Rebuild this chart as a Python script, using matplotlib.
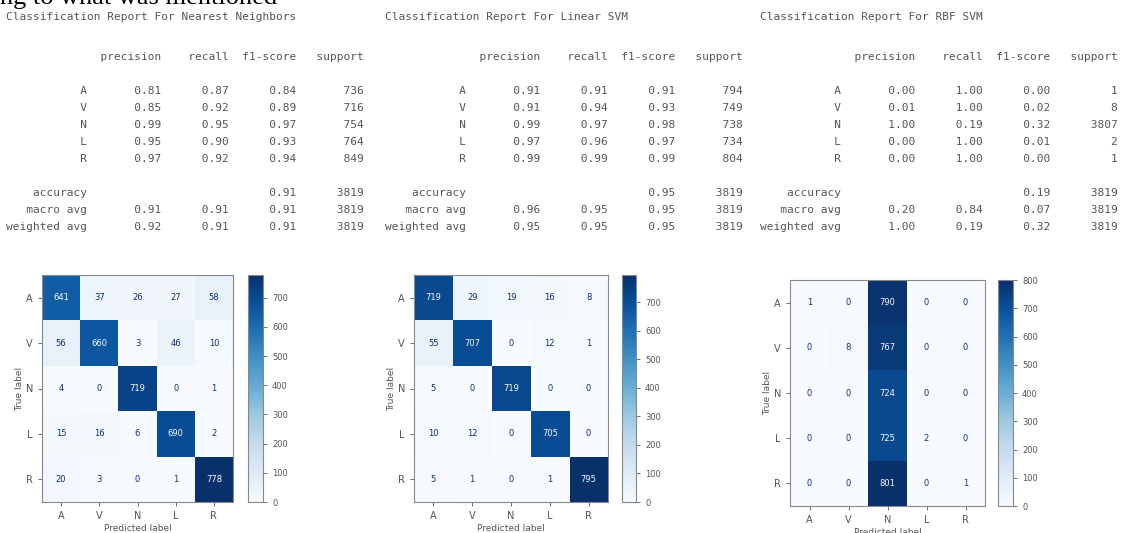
import matplotlib.pyplot as plt
import numpy as np

W, H = 1125, 533

classes = ['A', 'V', 'N', 'L', 'R']

# Nearest Neighbors
knn_precision = [0.81, 0.85, 0.99, 0.95, 0.97]
knn_recall = [0.87, 0.92, 0.95, 0.90, 0.92]
knn_f1 = [0.84, 0.89, 0.97, 0.93, 0.94]
knn_support = [736, 716, 754, 764, 849]
knn_accuracy = 0.91
knn_macro = [0.91, 0.91, 0.91]
knn_weighted = [0.92, 0.91, 0.91]
knn_cm = [[641, 37, 26, 27, 58],
          [56, 660, 3, 46, 10],
          [4, 0, 719, 0, 1],
          [15, 16, 6, 690, 2],
          [20, 3, 0, 1, 778]]

# Linear SVM
lin_precision = [0.91, 0.91, 0.99, 0.97, 0.99]
lin_recall = [0.91, 0.94, 0.97, 0.96, 0.99]
lin_f1 = [0.91, 0.93, 0.98, 0.97, 0.99]
lin_support = [794, 749, 738, 734, 804]
lin_accuracy = 0.95
lin_macro = [0.96, 0.95, 0.95]
lin_weighted = [0.95, 0.95, 0.95]
lin_cm = [[719, 29, 19, 16, 8],
          [55, 707, 0, 12, 1],
          [5, 0, 719, 0, 0],
          [10, 12, 0, 705, 0],
          [5, 1, 0, 1, 795]]

# RBF SVM
rbf_precision = [0.00, 0.01, 1.00, 0.00, 0.00]
rbf_recall = [1.00, 1.00, 0.19, 1.00, 1.00]
rbf_f1 = [0.00, 0.02, 0.32, 0.01, 0.00]
rbf_support = [1, 8, 3807, 2, 1]
rbf_accuracy = 0.19
rbf_macro = [0.20, 0.84, 0.07]
rbf_weighted = [1.00, 0.19, 0.32]
rbf_cm = [[1, 0, 790, 0, 0],
          [0, 8, 767, 0, 0],
          [0, 0, 724, 0, 0],
          [0, 0, 725, 2, 0],
          [0, 0, 801, 0, 1]]

models = [
    ('Nearest Neighbors', knn_precision, knn_recall, knn_f1, knn_support,
     knn_accuracy, knn_macro, knn_weighted, knn_cm),
    ('Linear SVM', lin_precision, lin_recall, lin_f1, lin_support,
     lin_accuracy, lin_macro, lin_weighted, lin_cm),
    ('RBF SVM', rbf_precision, rbf_recall, rbf_f1, rbf_support,
     rbf_accuracy, rbf_macro, rbf_weighted, rbf_cm),
]

# layout in pixels of the screenshot
text_x = [6, 385, 760]
mat_box = [(42, 233, 275, 502), (414, 608, 275, 502), (790, 985, 280, 506)]
cbar_box = [(248, 263), (622, 636), (998, 1013)]

TXT = '#555555'
MONO = 'DejaVu Sans Mono'


def report_lines(prec, rec, f1, sup, acc, macro, weighted):
    # same layout as sklearn's classification_report
    width = 12
    total = sum(sup)
    lines = [' ' * width + ' ' + ''.join(' {:>9}'.format(h) for h in
                                          ['precision', 'recall', 'f1-score', 'support'])]
    lines.append('')
    for c, p, r, f, s in zip(classes, prec, rec, f1, sup):
        lines.append('{:>{w}s}  {:>9.2f} {:>9.2f} {:>9.2f} {:>9}'.format(c, p, r, f, s, w=width))
    lines.append('')
    lines.append('{:>{w}s}  {:>9} {:>9} {:>9.2f} {:>9}'.format('accuracy', '', '', acc, total, w=width))
    lines.append('{:>{w}s}  {:>9.2f} {:>9.2f} {:>9.2f} {:>9}'.format('macro avg', *macro, total, w=width))
    lines.append('{:>{w}s}  {:>9.2f} {:>9.2f} {:>9.2f} {:>9}'.format('weighted avg', *weighted, total, w=width))
    return lines


def px_axes(fig, l, r, t, b):
    return fig.add_axes([l / W, 1 - b / H, (r - l) / W, (b - t) / H])


fig = plt.figure(figsize=(W / 100, H / 100), dpi=100)

# the cut-off line of document text above the screenshot
fig.text(0, 1 - 4 / H, 'ng to what was mentioned', family='Liberation Serif',
         fontsize=19, color='black', va='baseline', ha='left')

cmap = plt.get_cmap('Blues')
for k, (name, prec, rec, f1, sup, acc, macro, weighted, cm) in enumerate(models):
    x0 = text_x[k]
    fig.text(x0 / W, 1 - 17 / H, 'Classification Report For ' + name,
             family=MONO, fontsize=8, color=TXT, va='center', ha='left')
    for i, line in enumerate(report_lines(prec, rec, f1, sup, acc, macro, weighted)):
        fig.text(x0 / W, 1 - (57 + 17 * i) / H, line, family=MONO, fontsize=8,
                 color=TXT, va='center', ha='left')

    cm = np.array(cm)
    l, r, t, b = mat_box[k]
    ax = px_axes(fig, l, r, t, b)
    im = ax.imshow(cm, cmap=cmap, aspect='auto', interpolation='nearest',
                   vmin=0, vmax=cm.max())
    thresh = (cm.max() + cm.min()) / 2.0
    for i in range(5):
        for j in range(5):
            col = cmap(0.0) if cm[i, j] > thresh else cmap(1.0)
            ax.text(j, i, str(cm[i, j]), ha='center', va='center',
                    fontsize=6, color=col)
    ax.set_xticks(range(5))
    ax.set_yticks(range(5))
    ax.set_xticklabels(classes)
    ax.set_yticklabels(classes)
    ax.tick_params(labelsize=7, colors='#555555', length=3, width=0.6)
    ax.set_xlabel('Predicted label', fontsize=6.5, color='#555555', labelpad=2)
    ax.set_ylabel('True label', fontsize=6.5, color='#555555', labelpad=1)
    for sp in ax.spines.values():
        sp.set_color('#888888')
        sp.set_linewidth(0.8)

    cl, cr = cbar_box[k]
    cax = px_axes(fig, cl, cr, t, b)
    cb = fig.colorbar(im, cax=cax)
    cb.set_ticks(np.arange(0, cm.max() + 1, 100))
    cax.tick_params(labelsize=6, colors='#555555', length=3, width=0.6)
    cb.outline.set_edgecolor('#888888')
    cb.outline.set_linewidth(0.8)

fig.savefig('out.png', dpi=100)
